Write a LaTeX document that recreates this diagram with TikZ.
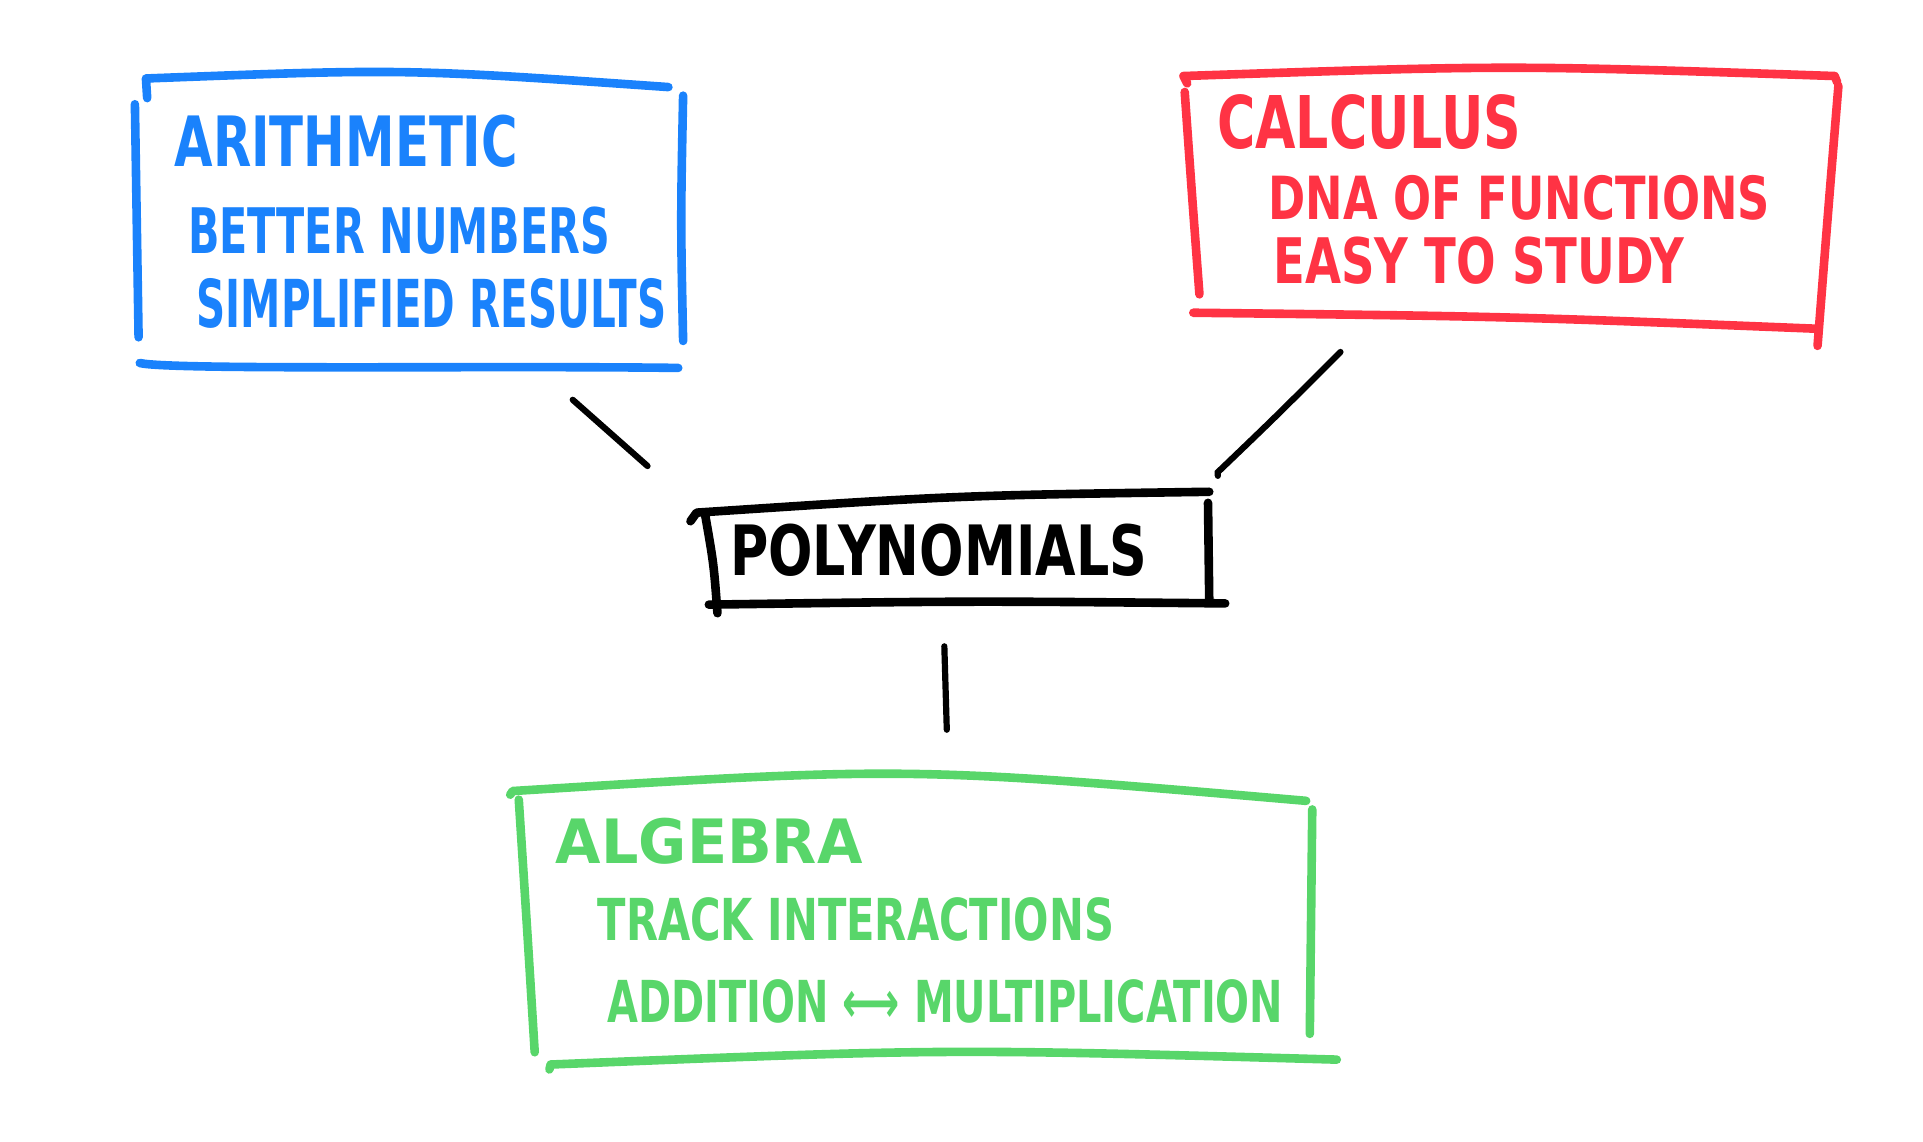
\documentclass[tikz,border=0pt]{standalone}
\usepackage{fontspec}
\setmainfont{DejaVu Sans}
\usepackage{graphicx}
\newdimen\pxu \pxu=0.6132pt
\newcommand\fitlbl[3]{\resizebox{#1\pxu}{#2\pxu}{\bfseries #3}}
\definecolor{hblue}{RGB}{26,130,252}
\definecolor{hred}{RGB}{255,51,68}
\definecolor{hgreen}{RGB}{88,214,106}
\begin{document}
\begin{tikzpicture}[x=0.6132pt,y=-0.6132pt,
  boxline/.style={line width=4.3pt,line cap=round,line join=round},
  conn/.style={line width=3.1pt,line cap=round,black},
  lbl/.style={anchor=south west,inner sep=0pt}]
\useasboundingbox (0,0) rectangle (1568,931);

% ---- Arithmetic (blue)
\draw[boxline,hblue] (120,80) -- (119,64) .. controls (330,56) .. (545,71);
\draw[boxline,hblue] (110,85) .. controls (112,180) .. (113,275);
\draw[boxline,hblue] (557,78) .. controls (555,180) .. (557,278);
\draw[boxline,hblue] (114,296) .. controls (140,302) and (400,298) .. (553,300);
\node[lbl,text=hblue] (ar1) at (142,137) {\fitlbl{280}{42}{ARITHMETIC}};
\node[lbl,text=hblue] (ar2) at (153,208) {\fitlbl{344}{38}{BETTER NUMBERS}};
\node[lbl,text=hblue] (ar3) at (160,268) {\fitlbl{383}{40}{SIMPLIFIED RESULTS}};

% ---- Calculus (red)
\draw[boxline,hred] (968,68) -- (965,62) .. controls (1230,53) .. (1496,62) -- (1498,67);
\draw[boxline,hred] (966,75) .. controls (972,160) .. (978,240);
\draw[boxline,hred] (1499,70) .. controls (1490,180) .. (1482,282);
\draw[boxline,hred] (973,255) .. controls (1230,258) .. (1480,268);
\node[lbl,text=hred] (ca1) at (992,122) {\fitlbl{248}{44}{CALCULUS}};
\node[lbl,text=hred] (ca2) at (1034,180) {\fitlbl{409}{36}{DNA OF FUNCTIONS}};
\node[lbl,text=hred] (ca3) at (1038,232) {\fitlbl{335}{38}{EASY TO STUDY}};

% ---- Polynomials (black)
\draw[boxline,black] (563,425) -- (568,418) .. controls (780,404) .. (986,401);
\draw[boxline,black] (575,420) .. controls (582,460) .. (585,500);
\draw[boxline,black] (985,410) -- (986,490);
\draw[boxline,black] (578,493) .. controls (790,490) .. (999,492);
\node[lbl,text=black] (poly) at (595,470) {\fitlbl{340}{42}{POLYNOMIALS}};

% ---- Algebra (green)
\draw[boxline,hgreen] (416,648) -- (418,645) .. controls (740,625) .. (1065,653);
\draw[boxline,hgreen] (423,652) .. controls (430,760) .. (436,858);
\draw[boxline,hgreen] (1070,660) -- (1068,843);
\draw[boxline,hgreen] (448,872) -- (449,868) .. controls (770,855) .. (1090,864);
\node[lbl,text=hgreen] (al1) at (453,705) {\fitlbl{250}{37}{ALGEBRA}};
\node[lbl,text=hgreen] (al2) at (487,768) {\fitlbl{421}{35}{TRACK INTERACTIONS}};
\node[lbl,text=hgreen] (al3) at (495,835) {\fitlbl{551}{35}{ADDITION ⟷ MULTIPLICATION}};

% ---- connectors
\coordinate (cA1) at (467,326);
\coordinate (cA2) at (528,380);
\coordinate (cC1) at (1093,287);
\coordinate (cC2) at (993,388);
\coordinate (cG1) at (770,527);
\coordinate (cG2) at (772,595);
\draw[conn] (cA1) -- (cA2);
\draw[conn] (cC1) .. controls (1040,340) .. (993,385) -- (cC2);
\draw[conn] (cG1) -- (cG2);
\end{tikzpicture}
\end{document}
